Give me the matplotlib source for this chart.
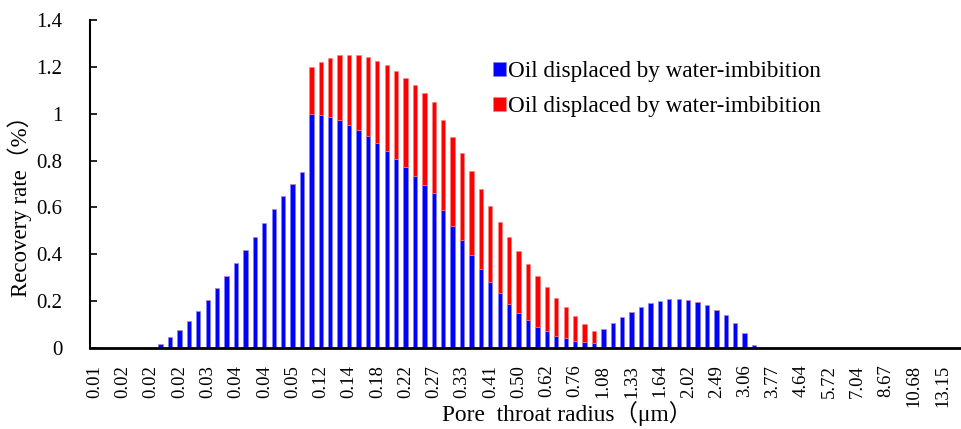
import matplotlib
matplotlib.use("Agg")
import matplotlib.pyplot as plt
import numpy as np

plt.rcParams['font.family'] = ['Liberation Serif', 'Noto Sans CJK SC']

# pore throat radius labels, one per third category
tick_labels = ['0.01', '0.02', '0.02', '0.02', '0.03', '0.04', '0.04', '0.05',
               '0.12', '0.14', '0.18', '0.22', '0.27', '0.33', '0.41', '0.50',
               '0.62', '0.76', '1.08', '1.33', '1.64', '2.02', '2.49', '3.06',
               '3.77', '4.64', '5.72', '7.04', '8.67', '10.68', '13.15']

# recovery rate (%) per pore throat class
blue_vals = [0.0] * 7 + [
    0.015, 0.047, 0.078, 0.117, 0.159, 0.205, 0.255, 0.307, 0.361, 0.418,
    0.475, 0.534, 0.592, 0.649, 0.701, 0.752, 0.997, 0.994, 0.986, 0.973,
    0.953, 0.932, 0.905, 0.874, 0.841, 0.805, 0.771, 0.734, 0.697, 0.660,
    0.589, 0.522, 0.462, 0.398, 0.337, 0.282, 0.233, 0.189, 0.151, 0.120,
    0.091, 0.071, 0.053, 0.041, 0.032, 0.026, 0.021, 0.080, 0.107, 0.132,
    0.155, 0.174, 0.191, 0.201, 0.208, 0.209, 0.205, 0.196, 0.184, 0.164,
    0.141, 0.107, 0.063, 0.013] + [0.0] * 22
red_vals = [0.0] * 23 + [
    0.201, 0.228, 0.252, 0.276, 0.299, 0.317, 0.336, 0.352, 0.366, 0.376,
    0.381, 0.387, 0.390, 0.389, 0.383, 0.377, 0.369, 0.357, 0.342, 0.324,
    0.305, 0.285, 0.262, 0.237, 0.215, 0.188, 0.160, 0.133, 0.105, 0.078,
    0.050] + [0.0] * 39
legend_labels = ['Oil displaced by water-imbibition',
                 'Oil displaced by water-imbibition']

x = np.arange(len(blue_vals))

fig = plt.figure(figsize=(9.62, 4.29), dpi=100)
ax = fig.add_axes([90 / 962, 81 / 429, 876 / 962, 328 / 429])

b1 = ax.bar(x, blue_vals, width=0.46, color='#0000ff', edgecolor='#8080ff', linewidth=0.4)
b2 = ax.bar(x, red_vals, width=0.46, bottom=blue_vals, color='#ff0000',
            edgecolor='#ff8080', linewidth=0.4)

ax.set_xlim(-0.5, len(x) - 0.5)
ax.set_ylim(0, 1.4)
ax.set_yticks(np.arange(0, 1.41, 0.2))
ax.set_yticklabels(['0', '0.2', '0.4', '0.6', '0.8', '1', '1.2', '1.4'])
ax.tick_params(axis='y', direction='in', length=5, width=1.2, labelsize=15, pad=20)
ax.set_xticks(np.arange(0, len(tick_labels) * 3, 3))
ax.set_xticklabels(tick_labels, rotation=90, fontsize=13.5)
ax.tick_params(axis='x', length=0, pad=12)

for s in ['top', 'right']:
    ax.spines[s].set_visible(False)
ax.spines['left'].set_linewidth(1.5)
ax.spines['bottom'].set_linewidth(2)

ax.legend([b1, b2], legend_labels, loc='upper left', bbox_to_anchor=(493 / 962, 1 - 61 / 429),
          bbox_transform=fig.transFigure, frameon=False, fontsize=16.7,
          handlelength=0.55, handleheight=0.55, handletextpad=0.1, labelspacing=0.62,
          borderpad=0, borderaxespad=0)

fig.text(20 / 962, 1 - 201 / 429, 'Recovery rate（%）', rotation=90,
         ha='center', va='center', fontsize=16.5)
fig.text(567 / 962, 1 - 414 / 429, 'Pore  throat radius（μm）',
         ha='center', va='center', fontsize=16.8)

fig.savefig('out.png', dpi=100)
